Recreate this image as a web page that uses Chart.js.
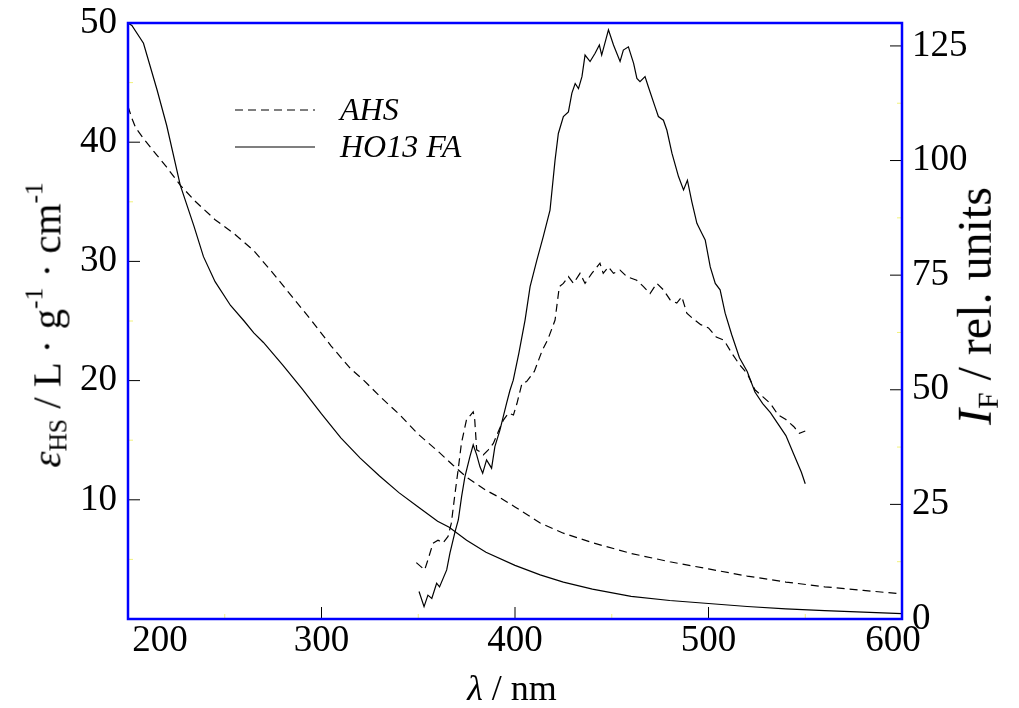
<!DOCTYPE html>
<html>
<head>
<meta charset="utf-8">
<script src="https://cdn.jsdelivr.net/npm/chart.js@4.4.0/dist/chart.umd.min.js"></script>
<style>
body { margin: 0; background: #fff; }
#wrap { position: relative; width: 1019px; height: 708px; font-family: "Liberation Serif", "Times New Roman", serif; color: #000; }
.lab { position: absolute; font-size: 36px; white-space: nowrap; transform: translate(-50%, -50%); }
.rot { transform: translate(-50%, -50%) rotate(-90deg); }
.lab sub { font-size: 0.62em; vertical-align: -0.25em; }
.lab sup { font-size: 0.62em; vertical-align: 0.7em; }
</style>
</head>
<body>
<div id="wrap">
<canvas id="chart" width="1019" height="708"></canvas>
<div class="lab rot" style="left:46px; top:325px; font-size:41px;"><i>ε</i><sub>HS</sub> / L · g<sup>-1</sup> · cm<sup>-1</sup></div>
<div class="lab rot" style="left:976px; top:306px; font-size:48px;"><i>I</i><sub>F</sub> / rel. units</div>
<div class="lab" style="left:512px; top:688px;"><i>λ</i> / nm</div>
</div>
<script>
// tick values
const xTicks = [200, 300, 400, 500, 600];
const xMinor = [250, 350, 450, 550];
const leftTicks = [10, 20, 30, 40, 50];
const leftMinor = [5, 15, 25, 35, 45];
const rightTicks = [0, 25, 50, 75, 100, 125];
const rightMinor = [12.5, 37.5, 62.5, 87.5, 112.5];

// absorption (left axis)
const ahsAbsX = [200,202,204,208,215,220,227,235,245,255,265,275,285,295,305,315,322,330,340,350,360,368,375,385,392,400,413,425,440,460,480,500,520,540,560,580,600];
const ahsAbsY = [43,42,41.2,40.3,38.9,37.9,36.4,35.0,33.5,32.3,30.9,29.0,27.0,25.0,22.9,21.0,20.0,18.7,17.2,15.5,14.1,12.9,11.9,10.8,10.2,9.4,8.05,7.2,6.4,5.5,4.8,4.2,3.6,3.1,2.7,2.4,2.1];
const faAbsX = [200,202,208,215,220,227,234,239,245,253,260,265,270,280,290,300,310,320,330,340,350,360,366,375,385,400,413,425,440,460,480,500,520,540,560,580,600];
const faAbsY = [50,49.8,48.3,44.4,41.4,36.4,33.0,30.4,28.3,26.3,25.0,24.0,23.2,21.3,19.3,17.2,15.2,13.5,12.0,10.6,9.4,8.2,7.7,6.6,5.6,4.5,3.7,3.1,2.5,1.9,1.55,1.3,1.05,0.85,0.7,0.58,0.45];

// fluorescence (right axis)
const ahsFlX = [349,353.3,355,357.6,360.2,362.8,365.4,367.1,368.8,370.6,372.3,374.9,378.4,379.2,380.2,381.9,383.6,386.2,388.8,391.4,394,396.6,399.2,401,403.6,406,410,414,417,420.7,422.9,425,427.6,430.2,433.6,436.2,439.7,443.9,445.6,448.3,450.9,454.3,457.7,462.9,466.4,469.8,473.3,476.7,480.2,483.6,486.2,488.8,492,496,500,504,508,512,516,520,524,528,532,536,540,544,547,550];
const ahsFlY = [12.3,10.7,12.9,16.5,17.2,16.6,18.0,20.9,26.7,32.5,38.3,43.4,45.2,43.4,36.9,36.5,35.8,36.9,38.3,40.9,43.4,44.9,44.5,47.0,51.4,51.8,54.0,58.5,61.0,65.2,72.5,73.2,74.7,73.2,75.4,73.2,75.4,77.6,75.4,76.8,75.4,76.1,74.7,73.9,72.5,71.0,73.2,71.8,69.6,68.9,70.3,66.7,65.5,64.2,63.5,61.5,60.8,58.0,55.5,53.5,50.0,48.5,47.0,44.5,43.5,42.0,40.5,41.0];
const faFlX = [350.4,353,355,357,359.5,361,364.7,366.4,369,370.7,372.4,374.1,376.7,378.4,380.2,381.9,383.3,385.3,387.9,389.6,392.2,393.9,395.6,397.4,399.1,402,405.2,407.8,411.3,414.6,418.1,420.7,422.4,425,427.6,429.4,431.1,432.8,434.6,436.2,438.8,441.4,443.6,444.8,448.3,450.9,454.3,456,458.6,461.3,463,464.6,467.2,468.9,472.4,474.1,476.7,478.5,481.1,484.5,487.1,489.1,491.4,494,496.6,498.3,500.9,503.5,506,508.6,512,516,520,524,528,532,536,540,544,548,550];
const faFlY = [6.0,2.7,5.2,4.5,7.8,7.0,10.7,14.4,19.0,21.6,26.7,31.0,35.4,38.0,35.8,33.2,31.8,34.7,32.9,37.6,41.2,44.1,47.0,49.9,52.1,58,65.2,72.5,78.3,83.4,89.2,100.1,105.9,109.6,110.6,114.7,116.8,115.7,118.3,123.0,121.6,123.4,125.2,123.0,128.5,125.2,121.6,124.1,124.8,121.2,117.9,117.2,118.3,116.1,111.7,109.6,108.8,106.6,101.6,96.5,93.6,95.7,91.0,86.3,84.1,82.7,76.8,73.2,71.8,66.7,62.0,57.0,54.0,49.5,47.0,45.0,42.5,40.0,36.0,32.0,29.5];

const pts = (xs, ys) => xs.map((x, i) => ({ x: x, y: ys[i] }));
const DASH = [8, 5];
const FONT = "'Liberation Serif', serif";

function line(label, xs, ys, axis, dashed) {
    return {
        label: label,
        data: pts(xs, ys),
        yAxisID: axis,
        borderColor: "#000",
        borderWidth: 1.2,
        borderDash: dashed ? DASH : [],
        pointRadius: 0,
        fill: false,
        tension: 0
    };
}

// inward ticks, x labels (first/last nudged like the original) + blue frame
const frame = {
    id: "frame",
    afterDatasetsDraw(chart) {
        const { ctx, chartArea: a, scales } = chart;
        const L = 12, m = 5;
        ctx.save();
        ctx.lineWidth = 1;
        ctx.strokeStyle = "#f2f27a";
        ctx.beginPath();
        xMinor.forEach(v => { const p = scales.x.getPixelForValue(v); ctx.moveTo(p, a.bottom); ctx.lineTo(p, a.bottom - m); });
        leftMinor.forEach(v => { const p = scales.y.getPixelForValue(v); ctx.moveTo(a.left, p); ctx.lineTo(a.left + m, p); });
        rightMinor.forEach(v => { const p = scales.y2.getPixelForValue(v); ctx.moveTo(a.right, p); ctx.lineTo(a.right - m, p); });
        ctx.stroke();
        ctx.strokeStyle = "#000";
        ctx.beginPath();
        xTicks.forEach(v => { const p = scales.x.getPixelForValue(v); ctx.moveTo(p, a.bottom); ctx.lineTo(p, a.bottom - L); });
        leftTicks.forEach(v => { const p = scales.y.getPixelForValue(v); ctx.moveTo(a.left, p); ctx.lineTo(a.left + L, p); });
        rightTicks.forEach(v => { const p = scales.y2.getPixelForValue(v); ctx.moveTo(a.right, p); ctx.lineTo(a.right - L, p); });
        ctx.stroke();

        ctx.fillStyle = "#000";
        ctx.font = "37px " + FONT;
        ctx.textAlign = "center";
        ctx.textBaseline = "middle";
        xTicks.forEach((v, i) => {
            let p = scales.x.getPixelForValue(v);
            if (i === 0) p += 32;
            if (i === xTicks.length - 1) p -= 9;
            ctx.fillText(String(v), p, a.bottom + 22);
        });

        ctx.strokeStyle = "#0000ff";
        ctx.lineWidth = 2.5;
        ctx.strokeRect(a.left, a.top, a.width, a.height);
        ctx.restore();
    }
};

// legend in the upper left of the plot
const legendBox = {
    id: "legendBox",
    afterDraw(chart) {
        const { ctx, chartArea: a } = chart;
        const x0 = a.left + 107, x1 = a.left + 187, tx = a.left + 212;
        ctx.save();
        ctx.strokeStyle = "#000";
        ctx.lineWidth = 1.2;
        ctx.fillStyle = "#000";
        ctx.font = "italic 32px " + FONT;
        ctx.textBaseline = "middle";
        chart.data.datasets.slice(0, 2).forEach((ds, i) => {
            const y = a.top + 87 + i * 37;
            ctx.setLineDash(ds.borderDash);
            ctx.beginPath();
            ctx.moveTo(x0, y);
            ctx.lineTo(x1, y);
            ctx.stroke();
            ctx.setLineDash([]);
            ctx.fillText(ds.label, tx, y + 2);
        });
        ctx.restore();
    }
};

const tickFont = { family: FONT, size: 37 };

new Chart(document.getElementById("chart"), {
    type: "line",
    data: {
        datasets: [
            line("AHS", ahsAbsX, ahsAbsY, "y", true),
            line("HO13 FA", faAbsX, faAbsY, "y", false),
            line("AHS fl", ahsFlX, ahsFlY, "y2", true),
            line("HO13 FA fl", faFlX, faFlY, "y2", false)
        ]
    },
    options: {
        responsive: false,
        animation: false,
        layout: { padding: { top: 23, left: 0, right: 0, bottom: 0 } },
        plugins: { legend: { display: false }, tooltip: { enabled: false } },
        scales: {
            x: {
                type: "linear", min: 200, max: 600,
                grid: { display: false }, border: { display: false },
                afterBuildTicks: s => { s.ticks = xTicks.map(v => ({ value: v })); },
                afterFit: s => { s.height = 89; },
                ticks: { display: false }
            },
            y: {
                type: "linear", position: "left", min: 0, max: 50,
                grid: { display: false }, border: { display: false },
                afterBuildTicks: s => { s.ticks = leftTicks.map(v => ({ value: v })); },
                afterFit: s => { s.width = 128; s.paddingTop = 0; s.paddingBottom = 0; },
                ticks: { font: tickFont, color: "#000", padding: 3 }
            },
            y2: {
                type: "linear", position: "right", min: 0, max: 130,
                grid: { display: false }, border: { display: false },
                afterBuildTicks: s => { s.ticks = rightTicks.map(v => ({ value: v })); },
                afterFit: s => { s.width = 117; s.paddingTop = 0; s.paddingBottom = 0; },
                ticks: { font: tickFont, color: "#000", padding: 2 }
            }
        }
    },
    plugins: [frame, legendBox]
});
</script>
</body>
</html>
